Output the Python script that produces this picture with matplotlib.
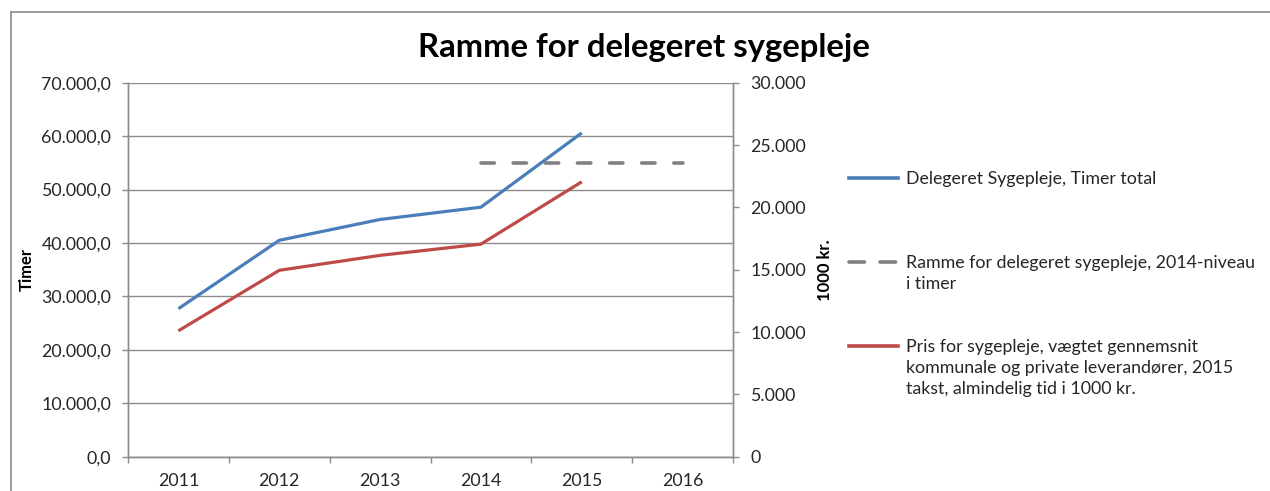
import matplotlib
matplotlib.use("Agg")
import matplotlib.pyplot as plt
from matplotlib.lines import Line2D
from matplotlib.ticker import FuncFormatter, FixedLocator

plt.rcParams['font.family'] = ['Lato', 'DejaVu Sans']

# Data
years = ["2011", "2012", "2013", "2014", "2015", "2016"]
timer_total = [27700, 40500, 44400, 46700, 60600]        # Delegeret Sygepleje, timer
ramme_years = ["2014", "2015", "2016"]
ramme_timer = [55000, 55000, 55000]                       # 2014-niveau
pris_1000kr = [10100, 14950, 16150, 17050, 22050]          # 1000 kr.

legend_labels = [
    "Delegeret Sygepleje, Timer total",
    "Ramme for delegeret sygepleje, 2014-niveau\ni timer",
    "Pris for sygepleje, vægtet gennemsnit\nkommunale og private leverandører, 2015\ntakst, almindelig tid i 1000 kr.",
]

BLUE = "#4a7ebb"
RED = "#be4b48"
GRAY = "#808080"
GRID = "#8c8c8c"
TXT = "#262626"
FS = 12.8
DASH = (3.7, 5.2)
LEG_DASH = (4.3, 4.3)

W, H = 1270, 491
fig = plt.figure(figsize=(W / 100, H / 100), dpi=100)

# chart frame (cut off at right and bottom)
fig.add_artist(Line2D([11 / W, 1.0], [1 - 12 / H, 1 - 12 / H], color="#8c8c8c", lw=1.2,
                      transform=fig.transFigure))
fig.add_artist(Line2D([11 / W, 11 / W], [0, 1 - 12 / H], color="#8c8c8c", lw=1.2,
                      transform=fig.transFigure))

ax = fig.add_axes([128 / W, 1 - 456.7 / H, (733 - 128) / W, (456.7 - 82.7) / H])
ax2 = ax.twinx()

x = list(range(len(years)))
ax.plot(x[:len(timer_total)], timer_total, color=BLUE, lw=2.3, solid_capstyle="butt",
        solid_joinstyle="round")
rx = [years.index(y) for y in ramme_years]
ax.plot(rx, ramme_timer, color=GRAY, lw=2.6, dashes=DASH, dash_capstyle="round")
ax2.plot(x[:len(pris_1000kr)], pris_1000kr, color=RED, lw=2.3, solid_capstyle="butt",
         solid_joinstyle="round")

ax.set_xlim(-0.5, len(years) - 0.5)
ax.set_ylim(0, 70000)
ax2.set_ylim(0, 30000)

ax.set_yticks(range(0, 70001, 10000))
ax2.set_yticks(range(0, 30001, 5000))

def dk(v, dec):
    s = f"{v:,.{dec}f}"
    return s.replace(",", "X").replace(".", ",").replace("X", ".")

ax.yaxis.set_major_formatter(FuncFormatter(lambda v, p: dk(v, 1)))
ax2.yaxis.set_major_formatter(FuncFormatter(lambda v, p: dk(v, 0)))

ax.set_xticks(x)
ax.set_xticklabels(years)
ax.xaxis.set_minor_locator(FixedLocator([i - 0.5 for i in range(len(years) + 1)]))
ax.tick_params(axis="x", which="major", length=0, pad=12, labelsize=FS, labelcolor=TXT)
ax.tick_params(axis="x", which="minor", length=4, width=1, color=GRID, direction="out")
ax.tick_params(axis="y", length=4.5, width=1, color=GRID, labelsize=FS, labelcolor=TXT, pad=7.5)
ax2.tick_params(axis="y", length=4.5, width=1, color=GRID, labelsize=FS, labelcolor=TXT, pad=8)

ax.grid(axis="y", color=GRID, lw=1)
ax.set_axisbelow(True)

for a in (ax, ax2):
    a.spines["top"].set_visible(False)
    for s in ("left", "right", "bottom"):
        a.spines[s].set_color(GRID)
        a.spines[s].set_linewidth(1)

ax.set_ylabel("Timer", fontsize=12, fontweight="bold", color="black")
ax2.set_ylabel("1000 kr.", fontsize=12, fontweight="bold", color="black")
ax.yaxis.set_label_coords((35 - 128) / 605, 0.5)
ax2.yaxis.set_label_coords((817 - 128) / 605, 0.5)

fig.text(644 / W, 1 - 48 / H, "Ramme for delegeret sygepleje", ha="center", va="center",
         fontsize=23.7, fontweight="bold", color="black")

# legend drawn to the right, handle aligned to the first text line
entries = [(BLUE, None, 178), (GRAY, LEG_DASH, 262), (RED, None, 346)]
for (col, dash, ypix), label in zip(entries, legend_labels):
    yf = 1 - ypix / H
    ln = Line2D([849 / W, 898 / W], [yf, yf], color=col, lw=2.6, transform=fig.transFigure)
    if dash:
        ln.set_dashes(dash)
        ln.set_dash_capstyle("round")
    fig.add_artist(ln)
    fig.text(906 / W, 1 - (ypix - 7) / H, label, ha="left", va="top", fontsize=FS,
             color=TXT, linespacing=1.38)

fig.savefig("out.png", dpi=100)
